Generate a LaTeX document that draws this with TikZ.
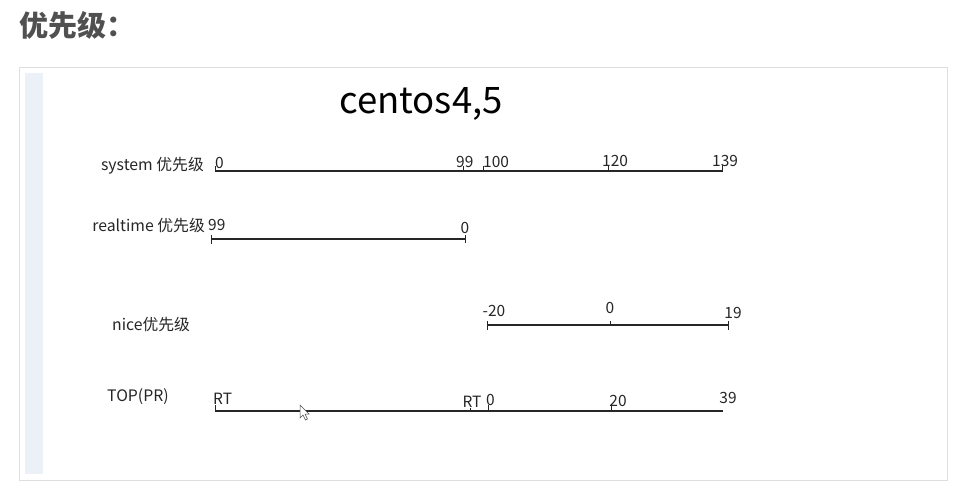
\documentclass[tikz,border=0pt]{standalone}
\usepackage{fontspec}
\setmainfont{Noto Sans CJK SC}
\definecolor{stripc}{RGB}{236,241,248}
\definecolor{headc}{RGB}{80,80,80}
\definecolor{framec}{RGB}{222,222,222}
\begin{document}
\begin{tikzpicture}[x=1pt,y=-1pt,
  lbl/.style={inner sep=0pt,font=\fontsize{15.8}{18}\selectfont,text=black!85},
  num/.style={inner sep=0pt,font=\fontsize{15.5}{18}\selectfont,text=black!85},
  axis/.style={line width=2.6pt,black!85},
  axisthin/.style={line width=2pt,black!85},
  tick/.style={line width=1pt,black!85}]
\useasboundingbox (0,0) rectangle (953,483);
\fill[white] (0,0) rectangle (953,483);
% heading
\node[anchor=west,inner sep=0pt,text=headc,font=\fontsize{29}{33}\selectfont\bfseries] (head) at (19,25) {优先级：};
% frame
\draw[line width=1.5pt,framec] (19.5,67.5) rectangle (947.5,480.5);
\fill[stripc] (25,73) rectangle (43,474);
% title
\node[inner sep=0pt,font=\fontsize{36.5}{42}\selectfont,text=black] (title) at (421,104) {centos4,5};

% system
\node[lbl,anchor=east] (sysl) at (204,166) {system 优先级};
\coordinate (s0) at (215,171); \coordinate (s1) at (723,171);
\draw[axis] (s0) -- (s1);
\draw[tick] (215,171) -- (215,166) (463,171) -- (463,166) (483,171) -- (483,166) (608,171) -- (608,166) (722,171) -- (722,165);
\node[num,anchor=west] (sa) at (215,163) {0};
\node[num,anchor=west] (sb) at (456,162) {99};
\node[num,anchor=west] (sc) at (483,162) {100};
\node[num,anchor=west] (sd) at (602,161) {120};
\node[num,anchor=west] (se) at (712,161) {139};

% realtime
\node[lbl,anchor=east] (rtl) at (205,226) {realtime 优先级};
\coordinate (r0) at (211,239); \coordinate (r1) at (465,239);
\draw[axisthin] (r0) -- (r1);
\draw[tick] (211,235) -- (211,244) (465,235) -- (465,243);
\node[num,anchor=west] (ra) at (208,225) {99};
\node[num] (rb) at (465,228) {0};

% nice
\node[lbl,anchor=west] (nil) at (112,325) {nice优先级};
\coordinate (n0) at (487,325); \coordinate (n1) at (728,325);
\draw[axisthin] (n0) -- (n1);
\draw[tick] (487,321) -- (487,330) (610,321) -- (610,325) (728,321) -- (728,330);
\node[num] (na) at (494,311) {-20};
\node[num] (nb) at (610,308) {0};
\node[num] (nc) at (733,313) {19};

% TOP
\node[lbl,anchor=west] (topl) at (107,397) {TOP(PR)};
\coordinate (t0) at (215,411); \coordinate (t1) at (723,411);
\draw[axisthin] (t0) -- (t1);
\draw[tick] (215,405) -- (215,411) (488,405) -- (488,411) (611,405) -- (611,411) (470,408) -- (470,411);
\node[num,anchor=west] (ta) at (213,399) {RT};
\node[num] (tb) at (472,402) {RT};
\node[num,anchor=west] (tc) at (486,400) {0};
\node[num] (td) at (618,401) {20};
\node[num] (te) at (728,398) {39};

% cursor
\draw[black!70,fill=white,line width=0.5pt] (300,405) -- (300,418) -- (303,415) -- (305.5,420) -- (307.5,419) -- (305,414) -- (309,414) -- cycle;
\end{tikzpicture}
\end{document}
